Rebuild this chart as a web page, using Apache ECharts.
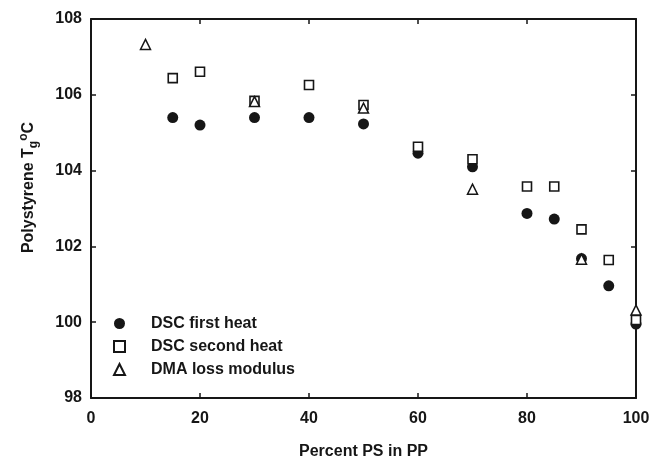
<!DOCTYPE html>
<html>
<head>
<meta charset="utf-8">
<script src="https://cdn.jsdelivr.net/npm/echarts@6/dist/echarts.min.js"></script>
<style>html,body{margin:0;padding:0;background:#fff}#c{width:649px;height:461px}</style>
</head>
<body>
<div id="c"></div>
<script>
// Data (x = Percent PS in PP, y = Polystyrene Tg in °C)
const firstHeatX = [15, 20, 30, 40, 50, 60, 70, 80, 85, 90, 95, 100];
const firstHeatY = [105.40, 105.20, 105.40, 105.40, 105.23, 104.46, 104.10, 102.87, 102.72, 101.68, 100.96, 99.95];
const secondHeatX = [15, 20, 30, 40, 50, 60, 70, 80, 85, 90, 95, 100];
const secondHeatY = [106.44, 106.61, 105.84, 106.26, 105.73, 104.63, 104.30, 103.58, 103.58, 102.45, 101.64, 100.06];
const dmaX = [10, 30, 50, 70, 90, 100];
const dmaY = [107.33, 105.82, 105.65, 103.51, 101.66, 100.32];
const seriesNames = ['DSC first heat', 'DSC second heat', 'DMA loss modulus'];
const xTicks = [0, 20, 40, 60, 80, 100];
const yTicks = [98, 100, 102, 104, 106, 108];

const zip = (xs, ys) => xs.map((x, i) => [x, ys[i]]);
const ink = '#161616';
const font = '"Liberation Sans", Arial, sans-serif';

const chart = echarts.init(document.getElementById('c'), null, {renderer: 'canvas'});
const axisCommon = {
  axisLine: {show: true, onZero: false, lineStyle: {color: ink, width: 2}},
  axisTick: {show: true, inside: true, length: 5, lineStyle: {color: ink, width: 1.5}},
  splitLine: {show: false}
};
chart.setOption({
  animation: false,
  backgroundColor: '#fff',
  grid: {left: 91, right: 13, top: 19, bottom: 63, containLabel: false, outerBoundsMode: 'none'},
  legend: {
    orient: 'vertical', left: 108, top: 310,
    itemWidth: 11, itemHeight: 11, itemGap: 6,
    data: seriesNames,
    textStyle: {color: ink, fontFamily: font, fontWeight: 'bold', fontSize: 16, lineHeight: 17, padding: [0, 0, 0, 21]}
  },
  xAxis: [
    Object.assign({}, axisCommon, {
      type: 'value', min: xTicks[0], max: xTicks[xTicks.length - 1], interval: 20,
      name: 'Percent PS in PP', nameLocation: 'middle', nameGap: 46,
      nameTextStyle: {color: ink, fontFamily: font, fontWeight: 'bold', fontSize: 16},
      axisLabel: {color: ink, fontFamily: font, fontWeight: 'bold', fontSize: 16, margin: 13}
    }),
    Object.assign({}, axisCommon, {
      type: 'value', position: 'top', min: xTicks[0], max: xTicks[xTicks.length - 1], interval: 20,
      axisLabel: {show: false}
    })
  ],
  yAxis: [
    Object.assign({}, axisCommon, {
      type: 'value', min: yTicks[0], max: yTicks[yTicks.length - 1], interval: 2,
      name: '{n|Polystyrene T}{sub|g}{sup|o}{n|C}', nameLocation: 'middle', nameGap: 51,
      nameTextStyle: {
        color: ink, fontFamily: font, fontWeight: 'bold', fontSize: 16, padding: [0, 0, 0, 42],
        rich: {
          n: {color: ink, fontFamily: font, fontWeight: 'bold', fontSize: 16, verticalAlign: 'middle'},
          sub: {color: ink, fontFamily: font, fontWeight: 'bold', fontSize: 12, padding: [10, 0, 0, 0], verticalAlign: 'bottom'},
          sup: {color: ink, fontFamily: font, fontWeight: 'bold', fontSize: 12, padding: [0, 0, 10, 0], verticalAlign: 'top'}
        }
      },
      axisLabel: {color: ink, fontFamily: font, fontWeight: 'bold', fontSize: 16, margin: 9}
    }),
    Object.assign({}, axisCommon, {
      type: 'value', position: 'right', min: yTicks[0], max: yTicks[yTicks.length - 1], interval: 2,
      axisLabel: {show: false}
    })
  ],
  series: [
    {
      name: seriesNames[0], type: 'scatter', data: zip(firstHeatX, firstHeatY),
      symbol: 'circle', symbolSize: 11, z: 2,
      itemStyle: {color: ink, borderColor: ink, borderWidth: 0, opacity: 1}
    },
    {
      name: seriesNames[1], type: 'scatter', data: zip(secondHeatX, secondHeatY),
      symbol: 'rect', symbolSize: 9, z: 3,
      itemStyle: {color: '#fff', borderColor: ink, borderWidth: 1.6, opacity: 1}
    },
    {
      name: seriesNames[2], type: 'scatter', data: zip(dmaX, dmaY),
      symbol: 'triangle', symbolSize: 10, z: 4,
      itemStyle: {color: '#fff', borderColor: ink, borderWidth: 1.5, opacity: 1}
    }
  ]
});
</script>
</body>
</html>
